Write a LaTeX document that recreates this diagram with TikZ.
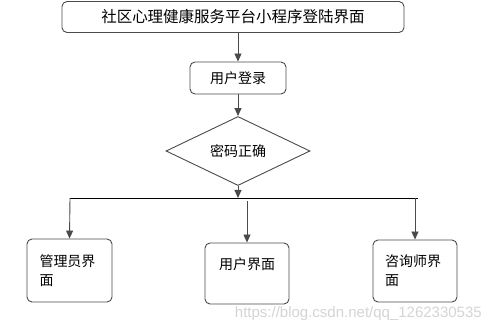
\documentclass[tikz,border=0pt]{standalone}
\usepackage{fontspec}
\usetikzlibrary{shapes.geometric,arrows.meta}
\newfontfamily\cjk{Noto Sans CJK SC}
\definecolor{flowgray}{HTML}{4A4A4A}
\definecolor{markgray}{HTML}{D4D4D4}
\tikzset{
  pagebox/.style={draw=flowgray, line width=0.9pt, rounded corners=5pt, align=left,
    font=\cjk\fontsize{14}{19}\selectfont, inner sep=0pt},
  flowarrow/.style={draw=flowgray, line width=0.9pt, -{Triangle[length=8pt,width=7pt]}}
}

\begin{document}
\begin{tikzpicture}[x=1pt, y=-1pt]
  \useasboundingbox (0,0) rectangle (491,334);

  % ---------- Top: entry and login ----------
  \node[pagebox, minimum width=342pt, minimum height=31pt, font=\cjk\fontsize{15.5}{19}\selectfont]
    (title) at (233,17) {社区心理健康服务平台小程序登陆界面};
  \node[pagebox, minimum width=96pt, minimum height=32pt] (login) at (238,78) {用户登录};
  \node[draw=flowgray, line width=0.9pt, diamond, minimum width=144pt, minimum height=51pt,
    inner sep=0pt, font=\cjk\fontsize{14}{19}\selectfont] (check) at (238,151) {密码正确};

  \draw[flowarrow] (login.north |- title.south) -- (login.north);
  \draw[flowarrow] (login.south) -- (check.north);

  % ---------- Branch line ----------
  \coordinate (busL) at (70,198);
  \coordinate (busR) at (418,198);
  \coordinate (busM) at (238,198);
  \draw[flowarrow] (check.south) -- (busM);
  \draw[black, line width=0.9pt] (busL) -- (busR);

  % ---------- Bottom: three pages ----------
  \node[pagebox, minimum width=85pt, minimum height=63pt, text width=60pt] (admin) at (69.5,270.5) {管理员界\\面};
  \node[pagebox, minimum width=84pt, minimum height=61pt, text width=56pt] (user) at (247,273.5) {用户界面\\~};
  \node[pagebox, minimum width=84pt, minimum height=62pt, text width=60pt] (counsel) at (415,271) {咨询师界\\面};

  \draw[flowarrow] (busL) -- (admin.north);
  \draw[flowarrow] ([yshift=-3pt]busM -| user.north) -- (user.north);
  \draw[flowarrow] (busR -| counsel.north) -- (counsel.north);

  \node[anchor=east, text=markgray, font=\fontspec{Liberation Sans}\fontsize{15}{18}\selectfont, inner sep=0pt]
    (mark) at (482,314) {https://blog.csdn.net/qq\_1262330535};
\end{tikzpicture}
\end{document}
